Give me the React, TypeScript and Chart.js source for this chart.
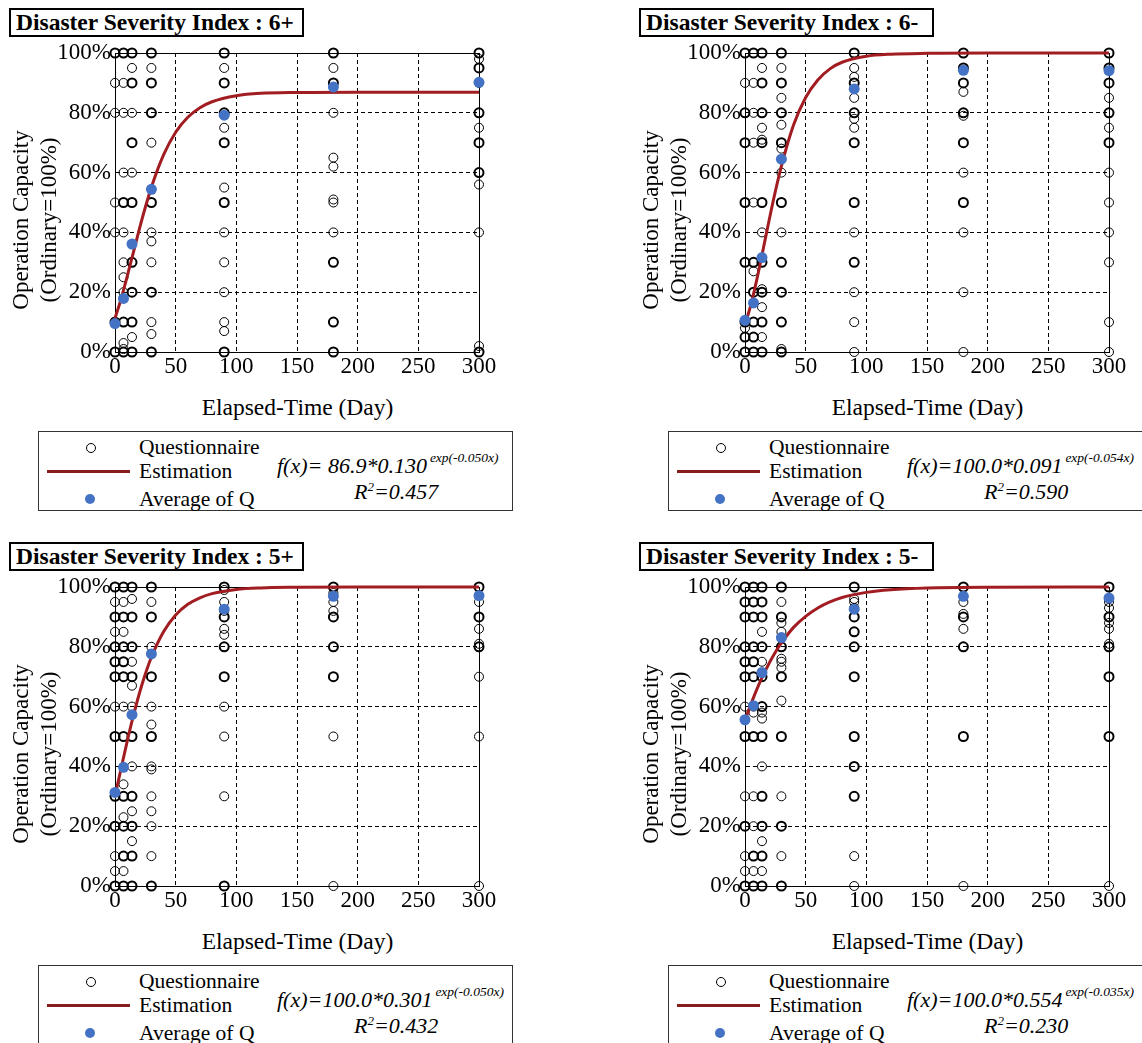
import React, { useEffect, useRef } from "react";
import { Chart, registerables } from "chart.js";

Chart.register(...registerables);

// ---------- data ----------
const qDays = [0, 7, 14, 30, 90, 180, 300];
const curveDays = [0, 5, 10, 15, 20, 25, 30, 40, 50, 60, 70, 80, 100, 120, 150, 200, 300];
const xTickStep = 50;
const yTickStep = 20;

// Estimation curves
const est6p = [11.3, 17.7, 25.2, 33.1, 41.0, 48.4, 55.1, 65.9, 73.5, 78.5, 81.7, 83.7, 85.7, 86.5, 86.8, 86.9, 86.9];
const est6m = [9.1, 16.0, 24.7, 34.4, 44.3, 53.7, 62.2, 75.9, 85.1, 91.0, 94.7, 96.9, 98.9, 99.6, 99.9, 100, 100];
const est5p = [30.1, 39.3, 48.3, 56.7, 64.3, 70.9, 76.5, 85.0, 90.6, 94.2, 96.4, 97.8, 99.2, 99.7, 99.9, 100, 100];
const est5m = [55.4, 60.9, 66.0, 70.5, 74.6, 78.2, 81.3, 86.5, 90.2, 93.0, 95.0, 96.5, 98.2, 99.1, 99.7, 99.95, 100];

// Average of Q
const avg6p = [9.5, 17.9, 36.1, 54.4, 79.2, 88.6, 90.2];
const avg6m = [10.6, 16.4, 31.6, 64.5, 88.0, 94.2, 94.1];
const avg5p = [31.3, 39.7, 57.3, 77.6, 92.6, 96.9, 97.1];
const avg5m = [55.6, 60.3, 71.4, 83.1, 92.6, 96.9, 96.3];

// Questionnaire answers per elapsed-day column (repeats = overlapping answers)
const q6p: number[][] = [
  [100, 100, 90, 80, 50, 40, 10, 10, 0, 0],
  [100, 100, 90, 80, 60, 50, 50, 40, 30, 25, 20, 10, 10, 3, 1, 0, 0],
  [100, 100, 95, 90, 90, 80, 70, 70, 60, 50, 50, 30, 30, 20, 20, 10, 10, 5, 0, 0],
  [100, 100, 95, 90, 90, 80, 80, 70, 50, 50, 40, 37, 30, 20, 20, 10, 6, 0, 0],
  [100, 100, 95, 90, 90, 80, 80, 75, 70, 70, 55, 50, 50, 40, 30, 20, 10, 7, 0, 0],
  [100, 100, 95, 90, 90, 80, 65, 62, 51, 50, 40, 30, 30, 10, 10, 0, 0],
  [100, 100, 98, 95, 95, 90, 80, 80, 75, 70, 70, 60, 60, 56, 40, 2, 0, 0],
];
const q6m: number[][] = [
  [100, 100, 90, 80, 80, 70, 70, 50, 50, 30, 30, 10, 10, 8, 5, 5, 0, 0],
  [100, 100, 90, 80, 70, 50, 30, 30, 27, 20, 20, 10, 10, 5, 5, 0, 0],
  [100, 100, 95, 90, 90, 80, 80, 75, 71, 70, 70, 50, 50, 40, 30, 30, 21, 20, 20, 15, 10, 10, 5, 0, 0],
  [100, 100, 95, 90, 90, 85, 80, 80, 76, 70, 70, 68, 60, 50, 50, 40, 30, 30, 20, 20, 10, 10, 1, 0, 0],
  [100, 100, 95, 92, 90, 90, 85, 80, 80, 78, 75, 70, 70, 50, 50, 40, 30, 30, 20, 10, 0],
  [100, 100, 95, 95, 90, 90, 87, 80, 80, 79, 70, 70, 60, 50, 50, 40, 20, 0],
  [100, 100, 95, 95, 90, 90, 85, 80, 80, 75, 70, 70, 60, 50, 40, 30, 10, 0],
];
const q5p: number[][] = [
  [100, 100, 95, 90, 90, 85, 80, 80, 75, 75, 70, 70, 60, 50, 50, 30, 30, 20, 20, 10, 5, 0, 0],
  [100, 100, 95, 90, 90, 85, 80, 80, 75, 75, 70, 70, 60, 50, 50, 34, 30, 30, 23, 20, 20, 10, 10, 5, 0, 0],
  [100, 100, 96, 90, 90, 80, 80, 75, 70, 70, 67, 60, 50, 50, 40, 30, 30, 25, 20, 20, 15, 10, 10, 0, 0],
  [100, 100, 95, 90, 90, 80, 70, 70, 60, 54, 50, 50, 40, 39, 30, 25, 20, 10, 0, 0],
  [100, 100, 99, 95, 92, 90, 90, 86, 84, 80, 80, 70, 70, 60, 50, 30, 0, 0],
  [100, 100, 98, 95, 92, 90, 90, 80, 80, 70, 70, 50, 0],
  [100, 100, 95, 90, 90, 86, 81, 80, 80, 70, 50, 0],
];
const q5m: number[][] = [
  [100, 100, 95, 95, 90, 90, 80, 80, 75, 75, 70, 70, 60, 50, 50, 30, 20, 20, 10, 5, 0, 0],
  [100, 100, 95, 95, 90, 90, 80, 80, 75, 75, 70, 70, 60, 58, 50, 50, 30, 20, 10, 10, 5, 0, 0],
  [100, 100, 95, 95, 90, 90, 85, 80, 80, 75, 70, 70, 60, 60, 58, 56, 50, 50, 40, 30, 30, 20, 20, 15, 10, 10, 5, 0, 0],
  [100, 100, 95, 90, 90, 88, 85, 80, 80, 76, 75, 73, 70, 70, 62, 50, 50, 30, 20, 20, 10, 0, 0],
  [100, 100, 96, 95, 93, 90, 90, 85, 85, 80, 80, 70, 70, 50, 50, 40, 40, 30, 30, 10, 0],
  [100, 100, 95, 91, 90, 90, 86, 80, 80, 50, 50, 0],
  [100, 100, 95, 93, 90, 90, 88, 86, 81, 80, 80, 70, 70, 50, 50, 0],
];

// ---------- styles ----------
const SERIF = '"Liberation Serif", "Times New Roman", serif';
const BLUE = "#4472C4";
const CURVE = "#A21D22";
const LEGEND_LINE = "#861C1C";

const framePlugin = {
  id: "frame",
  beforeDatasetsDraw(chart: any) {
    const { ctx, chartArea: a } = chart;
    ctx.save();
    ctx.strokeStyle = "#000";
    ctx.lineWidth = 1;
    ctx.setLineDash([]);
    const l = Math.round(a.left) + 0.5;
    const t = Math.round(a.top) + 0.5;
    const r = Math.round(a.right) + 0.5;
    const b = Math.round(a.bottom) + 0.5;
    ctx.strokeRect(l, t, r - l, b - t);
    ctx.restore();
  },
};

function buildQPoints(cols: number[][]) {
  const pts: { x: number; y: number; n: number }[] = [];
  cols.forEach((vals, i) => {
    const counts = new Map<number, number>();
    vals.forEach((v) => counts.set(v, (counts.get(v) || 0) + 1));
    counts.forEach((n, v) => pts.push({ x: qDays[i], y: v, n }));
  });
  return pts;
}

function makeConfig(q: number[][], avg: number[], est: number[]): any {
  const tickFont = { family: SERIF, size: 23 };
  return {
    type: "scatter",
    data: {
      datasets: [
        {
          label: "Average of Q",
          data: avg.map((v, i) => ({ x: qDays[i], y: v })),
          pointRadius: 5.5,
          pointBackgroundColor: BLUE,
          pointBorderColor: BLUE,
          pointBorderWidth: 0,
          clip: false,
          order: 0,
        },
        {
          label: "Estimation",
          data: curveDays.map((d, i) => ({ x: d, y: est[i] })),
          showLine: true,
          borderColor: CURVE,
          borderWidth: 3,
          pointRadius: 0,
          tension: 0.4,
          cubicInterpolationMode: "monotone",
          fill: false,
          clip: false,
          order: 1,
        },
        {
          label: "Questionnaire",
          data: buildQPoints(q),
          pointRadius: 4.5,
          pointBackgroundColor: "rgba(0,0,0,0)",
          pointBorderColor: "#000",
          pointBorderWidth: (ctx: any) => (ctx.raw && ctx.raw.n > 1 ? 2 : 1),
          clip: false,
          order: 2,
        },
      ],
    },
    options: {
      animation: false,
      responsive: false,
      events: [],
      layout: { padding: { top: 14, right: 21, left: 0, bottom: 0 } },
      plugins: { legend: { display: false }, tooltip: { enabled: false } },
      scales: {
        x: {
          type: "linear",
          min: 0,
          max: 300,
          ticks: { stepSize: xTickStep, padding: 1, color: "#000", font: tickFont, maxRotation: 0 },
          grid: { color: "#000", lineWidth: 1, drawTicks: false },
          border: { display: true, color: "#000", width: 1, dash: [4, 3] },
          afterFit: (s: any) => {
            s.height = 29;
            s.paddingLeft = 0;
            s.paddingRight = 0;
          },
        },
        y: {
          type: "linear",
          min: 0,
          max: 100,
          ticks: {
            stepSize: yTickStep,
            padding: 4,
            color: "#000",
            font: tickFont,
            callback: (v: any) => v + "%",
          },
          grid: { color: "#000", lineWidth: 1, drawTicks: false },
          border: { display: true, color: "#000", width: 1, dash: [4, 3] },
          afterFit: (s: any) => {
            s.width = 115;
            s.paddingTop = 0;
            s.paddingBottom = 0;
          },
        },
      },
    },
    plugins: [framePlugin],
  };
}

type PanelProps = {
  ox: number;
  oy: number;
  title: string;
  q: number[][];
  avg: number[];
  est: number[];
  fx: string;
  sup: string;
  r2: string;
};

function Panel({ ox, oy, title, q, avg, est, fx, sup, r2 }: PanelProps) {
  const ref = useRef<HTMLCanvasElement>(null);
  useEffect(() => {
    const chart = new Chart(ref.current as HTMLCanvasElement, makeConfig(q, avg, est));
    return () => chart.destroy();
  }, []);

  const lx = ox + 38;
  const ly = oy + 431;
  const abs: React.CSSProperties = { position: "absolute", whiteSpace: "nowrap", color: "#000" };

  return (
    <>
      <div
        style={{
          ...abs,
          left: ox + 9,
          top: oy + 8,
          width: 295,
          height: 29,
          border: "2px solid #000",
          boxSizing: "border-box",
          font: `bold 23.5px ${SERIF}`,
          lineHeight: "25px",
          paddingLeft: 5,
          background: "#fff",
        }}
      >
        {title}
      </div>
      <canvas
        ref={ref}
        width={500}
        height={342}
        style={{ position: "absolute", left: ox, top: oy + 39, display: "block" }}
      />
      <div
        style={{
          ...abs,
          left: ox + 35 - 110,
          top: oy + 220 - 28,
          width: 220,
          height: 56,
          transform: "rotate(-90deg)",
          textAlign: "center",
          font: `23px ${SERIF}`,
          lineHeight: "28px",
        }}
      >
        Operation Capacity
        <br />
        (Ordinary=100%)
      </div>
      <div
        style={{
          ...abs,
          left: ox + 115,
          top: oy + 407 - 14,
          width: 365,
          textAlign: "center",
          font: `23.5px ${SERIF}`,
          lineHeight: "28px",
        }}
      >
        Elapsed-Time (Day)
      </div>
      <div
        style={{
          position: "absolute",
          left: lx,
          top: ly,
          width: 475,
          height: 80,
          border: "1px solid #333",
          boxSizing: "border-box",
          background: "#fff",
        }}
      >
        <div
          style={{
            position: "absolute",
            left: 47,
            top: 11,
            width: 8,
            height: 8,
            border: "1px solid #000",
            borderRadius: "50%",
          }}
        />
        <div style={{ position: "absolute", left: 8, top: 38, width: 83, height: 3, background: LEGEND_LINE }} />
        <div
          style={{
            position: "absolute",
            left: 46,
            top: 62,
            width: 10,
            height: 10,
            borderRadius: "50%",
            background: BLUE,
          }}
        />
        <div style={{ ...abs, left: 100, top: 3, font: `21.5px ${SERIF}`, lineHeight: "24px" }}>Questionnaire</div>
        <div style={{ ...abs, left: 100, top: 27, font: `21.5px ${SERIF}`, lineHeight: "24px" }}>Estimation</div>
        <div style={{ ...abs, left: 100, top: 55, font: `21.5px ${SERIF}`, lineHeight: "24px" }}>Average of Q</div>
        <div style={{ ...abs, left: 238, top: 22, font: `italic 22px ${SERIF}`, lineHeight: "24px" }}>
          {fx}
          <span style={{ position: "relative", top: -11, fontSize: 13.5, marginLeft: 3 }}>{sup}</span>
        </div>
        <div style={{ ...abs, left: 315, top: 48, font: `italic 22px ${SERIF}`, lineHeight: "24px" }}>
          R<span style={{ position: "relative", top: -8, fontSize: 13 }}>2</span>
          {r2}
        </div>
      </div>
    </>
  );
}

export default function App() {
  return (
    <div
      style={{
        position: "absolute",
        left: 0,
        top: 0,
        width: 1142,
        height: 1043,
        overflow: "hidden",
        background: "#fff",
      }}
    >
      <Panel
        ox={0}
        oy={0}
        title="Disaster Severity Index : 6+"
        q={q6p}
        avg={avg6p}
        est={est6p}
        fx="f(x)= 86.9*0.130"
        sup="exp(-0.050x)"
        r2="=0.457"
      />
      <Panel
        ox={630}
        oy={0}
        title="Disaster Severity Index : 6-"
        q={q6m}
        avg={avg6m}
        est={est6m}
        fx="f(x)=100.0*0.091"
        sup="exp(-0.054x)"
        r2="=0.590"
      />
      <Panel
        ox={0}
        oy={534}
        title="Disaster Severity Index : 5+"
        q={q5p}
        avg={avg5p}
        est={est5p}
        fx="f(x)=100.0*0.301"
        sup="exp(-0.050x)"
        r2="=0.432"
      />
      <Panel
        ox={630}
        oy={534}
        title="Disaster Severity Index : 5-"
        q={q5m}
        avg={avg5m}
        est={est5m}
        fx="f(x)=100.0*0.554"
        sup="exp(-0.035x)"
        r2="=0.230"
      />
    </div>
  );
}
